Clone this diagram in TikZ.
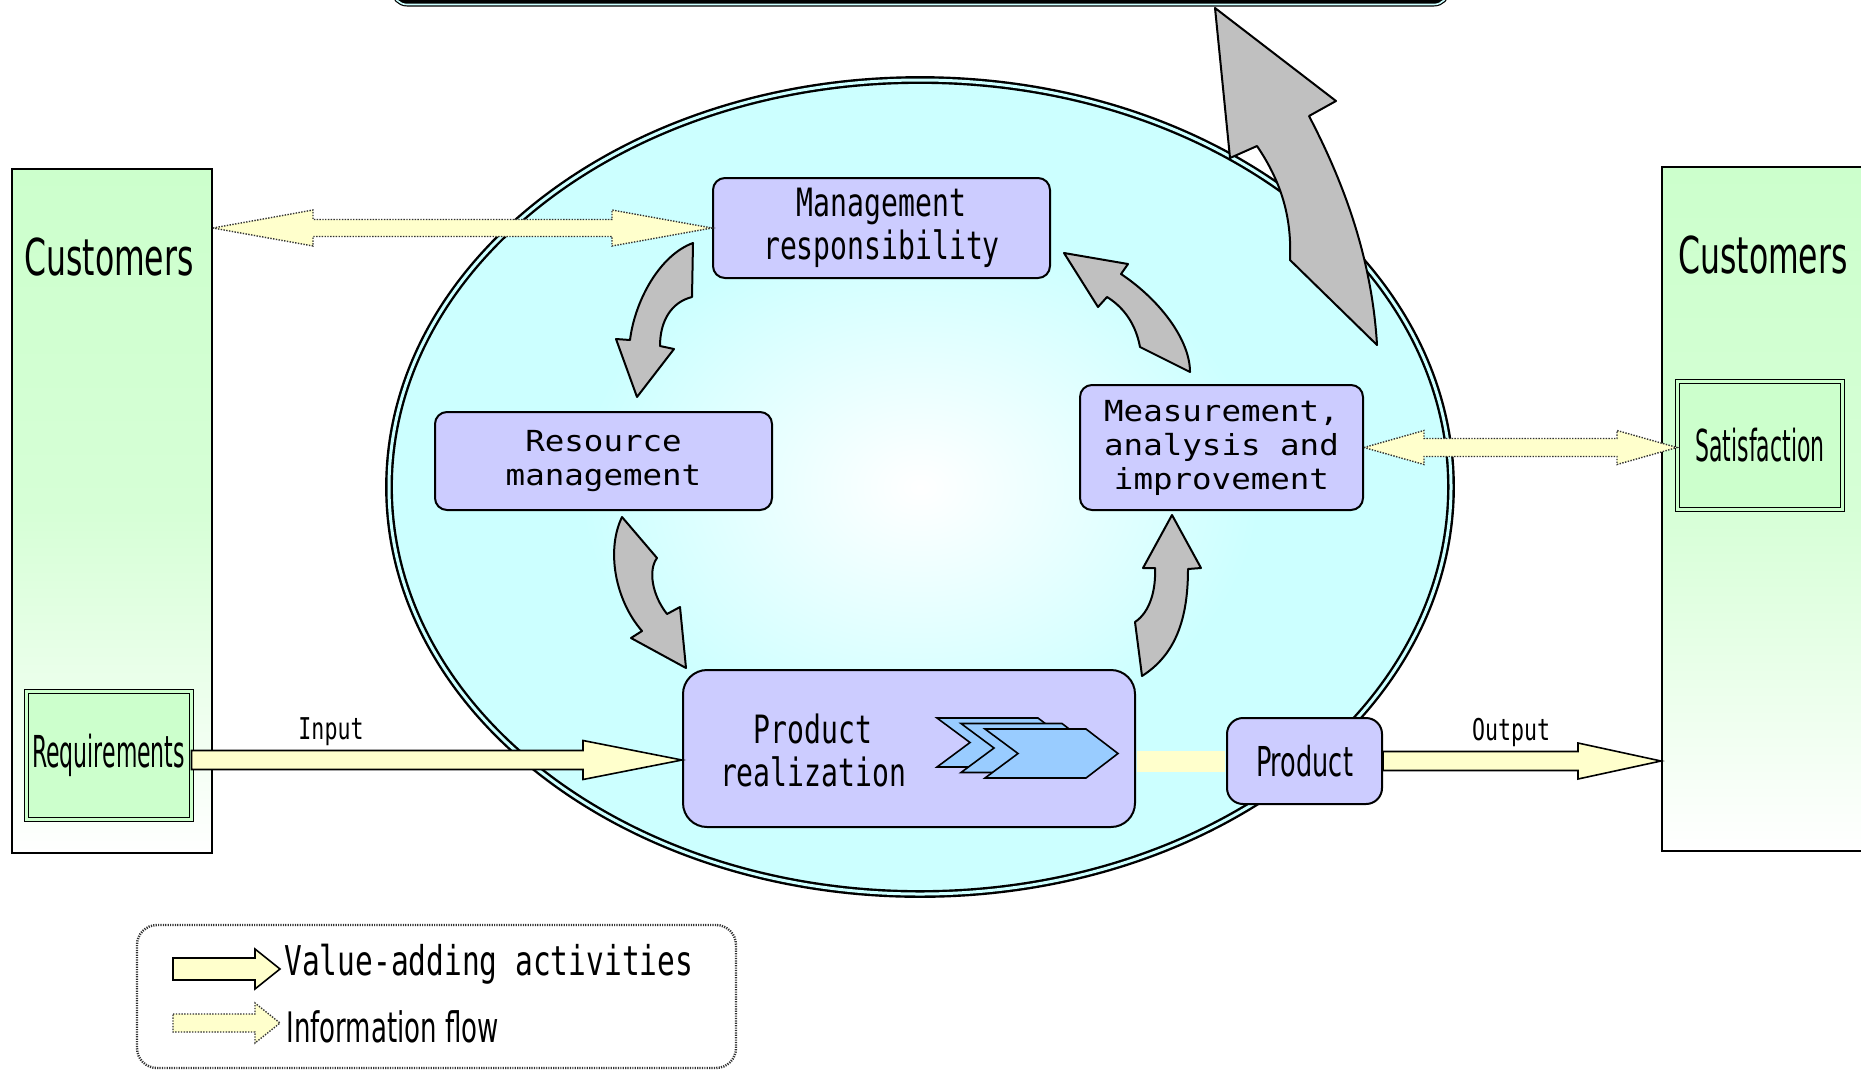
\documentclass[tikz,border=0pt]{standalone}
\usepackage{fontspec}
\usetikzlibrary{shapes.geometric,calc}

\newfontfamily\custfont[FakeStretch=0.62]{DejaVu Sans}
\newfontfamily\slimfont[FakeStretch=0.5]{DejaVu Sans}
\newfontfamily\gothfont[FakeStretch=0.72]{DejaVu Sans Mono}
\newfontfamily\widefont[FakeStretch=1.12]{DejaVu Sans Mono}

\definecolor{custgreen}{HTML}{CCFFCC}
\definecolor{boxblue}{HTML}{CCCCFF}
\definecolor{ellcyan}{HTML}{CCFFFF}
\definecolor{flowyellow}{HTML}{FFFFCC}
\definecolor{turngray}{HTML}{C0C0C0}
\definecolor{chevblue}{HTML}{99CCFF}

\pgfdeclareradialshading{qmsshade}{\pgfpoint{0bp}{0bp}}{color(0bp)=(white); color(16bp)=(ellcyan); color(50bp)=(ellcyan)}

\tikzset{
  custbox/.style={draw, line width=1pt, top color=custgreen, bottom color=white, middle color=custgreen!80!white, minimum width=100pt, minimum height=342pt, inner sep=0pt},
  custtext/.style={font=\custfont\fontsize{25.4pt}{30pt}\selectfont, anchor=base, inner sep=0pt},
  keybox/.style={draw, fill=custgreen, line width=0.5pt, double=custgreen, double distance=1.5pt, minimum width=82.5pt, minimum height=64pt, inner sep=0pt, font=\slimfont\fontsize{22pt}{26pt}\selectfont},
  qmsell/.style={ellipse, draw, line width=1.2pt, double=ellcyan, double distance=1.5pt, shade, shading=qmsshade, minimum width=531pt, minimum height=407pt, inner sep=0pt},
  procbox/.style={draw, line width=1pt, fill=boxblue, rounded corners=6pt, inner sep=0pt},
  gothtext/.style={font=\gothfont\fontsize{19.5pt}{21.5pt}\selectfont, align=center},
  widetext/.style={font=\widefont\fontsize{14.5pt}{17pt}\selectfont, align=center},
  smalltext/.style={font=\gothfont\fontsize{15pt}{18pt}\selectfont, anchor=base, inner sep=0pt},
  valueline/.style={draw, fill=flowyellow, line width=0.8pt},
  flowline/.style={draw=black!80, fill=flowyellow, line width=0.7pt, dash pattern=on 0.7pt off 0.7pt},
  turnarrow/.style={draw, fill=turngray, line width=1pt, line join=round},
  chevron/.style={draw, fill=chevblue, line width=0.8pt},
  topbox/.style={draw, fill=black, line width=0.6pt, double=ellcyan, double distance=0.8pt, rounded corners=7pt},
  legendbox/.style={draw=black!80, line width=1.2pt, dash pattern=on 0.6pt off 0.6pt, rounded corners=10pt, minimum width=299.5pt, minimum height=71.5pt, inner sep=0pt}
}

% 太い矢印 (始点, 終点, 軸の半幅, 頭の半幅, 頭の長さ)
\newcommand\valuearrow[6][]{%
  \draw[#1] let \p1=(#2), \p2=(#3) in
    (\x1,\y1+#4) -- (\x2-#6,\y1+#4) -- (\x2-#6,\y1+#5) -- (\x2,\y1)
    -- (\x2-#6,\y1-#5) -- (\x2-#6,\y1-#4) -- (\x1,\y1-#4) -- cycle;}

% 両方向の情報の流れ
\newcommand\flowarrows[6][]{%
  \draw[#1] let \p1=(#2), \p2=(#3) in
    (\x1,\y1) -- (\x1+#6,\y1+#5) -- (\x1+#6,\y1+#4) -- (\x2-#6,\y1+#4)
    -- (\x2-#6,\y1+#5) -- (\x2,\y1) -- (\x2-#6,\y1-#5) -- (\x2-#6,\y1-#4)
    -- (\x1+#6,\y1-#4) -- (\x1+#6,\y1-#5) -- cycle;}

\begin{document}
\begin{tikzpicture}[x=0.5pt, y=-0.5pt]
  \useasboundingbox (0,0) rectangle (1861,1071);

  % 上の枠 (はみ出し)
  \draw[topbox] (393,-60) rectangle (1448,4.5);

  % 顧客
  \node[custbox] (custL) at (112,511) {};
  \node[custtext] (custLtxt) at (109,275) {Customers};
  \node[custbox, minimum width=101pt] (custR) at (1763,509) {};
  \node[custtext] (custRtxt) at (1763,273) {Customers};
  \node[keybox] (req) at (108.5,755) {Requirements};
  \node[keybox] (satis) at (1760,445) {Satisfaction};

  % 楕円
  \node[qmsell] (qms) at (920,487) {};

  % 箱
  \node[procbox, gothtext, minimum width=168.5pt, minimum height=50pt] (mgmt) at (881.5,228) {Management\\responsibility};
  \node[procbox, widetext, minimum width=168.5pt, minimum height=49pt] (res) at (603.5,461) {Resource\\management};
  \node[procbox, widetext, minimum width=141.5pt, minimum height=62.5pt] (meas) at (1221.5,447.5) {Measurement,\\analysis and\\improvement};
  \node[procbox, rounded corners=12pt, minimum width=226pt, minimum height=78.5pt] (real) at (909,748.5) {};
  \node[gothtext, inner sep=0pt] (realtxt) at (813,750) {Product\\realization};
  \node[procbox, rounded corners=8pt, minimum width=77.5pt, minimum height=43pt, font=\custfont\fontsize{20.6pt}{24pt}\selectfont] (prod) at (1304.5,761) {Product};

  % 情報の流れ
  \flowarrows[flowline]{custL.east |- mgmt.west}{mgmt.west}{4.25pt}{9pt}{50pt}
  \flowarrows[flowline]{meas.east}{satis.west}{4.5pt}{8.5pt}{30pt}

  % 価値を付加する活動
  \valuearrow[valueline]{[yshift=-2.5pt]req.east}{real.west}{4.75pt}{9.75pt}{49.5pt}
  \fill[flowyellow] let \p1=(real.east), \p2=(prod.west) in (\x1+0.5pt,\y2+5.25pt) rectangle (\x2-0.5pt,\y2-5.25pt);
  \valuearrow[valueline]{prod.east}{custR.west}{4.75pt}{9pt}{41.5pt}
  \node[smalltext] (input) at (331,739) {Input};
  \node[smalltext] (output) at (1511,740) {Output};

  % 工程の矢羽
  \foreach \d in {0,1,2}
    \draw[chevron, shift={(24*\d,5.5*\d)}] (937,718) -- ++(101,0) -- ++(32,24.5) -- ++(-32,24.5) -- ++(-101,0) -- ++(33,-24.5) -- cycle;

  % 回る矢印
  \draw[turnarrow] (693,243) .. controls (660,255) and (635,300) .. (630,340) -- (616,339) -- (637,397) -- (674,349) -- (660,346) .. controls (660,320) and (672,302) .. (692,297) -- cycle;
  \draw[turnarrow] (622,517) .. controls (606,550) and (615,600) .. (642,631) -- (631,638) -- (686,668) -- (680,607) -- (667,614) .. controls (652,595) and (648,570) .. (657,558) -- cycle;
  \draw[turnarrow] (1172,515) -- (1201,568) -- (1188,569) .. controls (1188,620) and (1175,655) .. (1142,676) -- (1135,622) .. controls (1150,612) and (1156,590) .. (1155,568) -- (1143,568) -- cycle;
  \draw[turnarrow] (1064,253) -- (1128,264) -- (1121,274) .. controls (1160,300) and (1190,340) .. (1190,372) -- (1140,347) .. controls (1135,320) and (1120,305) .. (1107,297) -- (1098,307) -- cycle;
  \draw[turnarrow] (1215,8) -- (1336,101) -- (1309,116) .. controls (1345,185) and (1372,260) .. (1377,345) -- (1290,260) .. controls (1292,215) and (1280,180) .. (1257,146) -- (1230,158) -- cycle;

  % 凡例
  \node[legendbox] (legend) at (436.5,996.5) {};
  \coordinate (lgv1) at (173,969);
  \coordinate (lgv2) at (280,969);
  \coordinate (lgi1) at (173,1023);
  \coordinate (lgi2) at (280,1023);
  \valuearrow[valueline]{lgv1}{lgv2}{5.5pt}{10pt}{12.5pt}
  \valuearrow[flowline]{lgi1}{lgi2}{4.5pt}{10pt}{12.5pt}
  \node[font=\gothfont\fontsize{20.5pt}{24pt}\selectfont, anchor=base west, inner sep=0pt] (lgval) at (284,975) {Value-adding activities};
  \node[font=\custfont\fontsize{21pt}{25pt}\selectfont, anchor=base west, inner sep=0pt] (lginfo) at (286,1042) {Information flow};
\end{tikzpicture}
\end{document}
